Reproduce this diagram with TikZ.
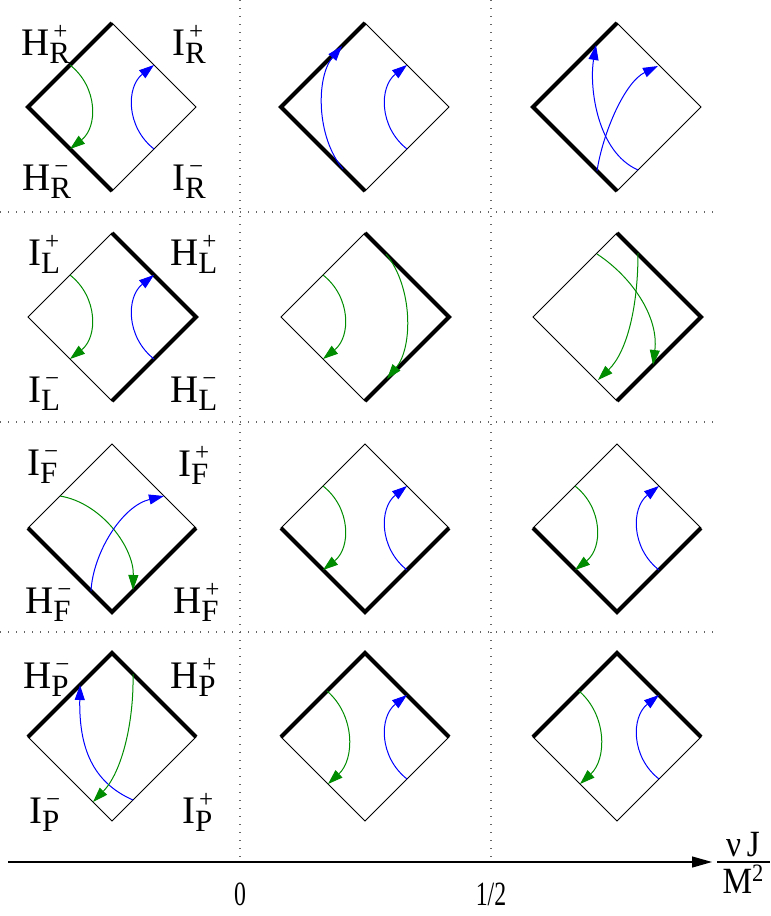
\documentclass[tikz,border=0pt]{standalone}
\usepackage{fontspec}
\setmainfont{Liberation Serif}
\usetikzlibrary{arrows.meta}
\definecolor{pgreen}{RGB}{0,140,0}
\definecolor{pblue}{RGB}{0,0,255}
\newcommand{\plab}[3]{{\fontsize{39}{39}\selectfont #1}\makebox[0pt][l]{\hspace{4pt}\raisebox{16pt}{\fontsize{25}{25}\selectfont #3}}\raisebox{-8pt}{\fontsize{31}{31}\selectfont #2}}
\newcommand{\mn}{\char"2212}
\tikzset{
  thinedge/.style={line width=1pt, line join=miter},
  thickedge/.style={line width=4pt, line join=miter, line cap=butt},
  gcurve/.style={pgreen, line width=1pt, -{Triangle[length=15pt,width=10pt]}},
  bcurve/.style={pblue, line width=1pt, -{Triangle[length=15pt,width=10pt]}},
  gridline/.style={line width=1.3pt, black!60, dash pattern=on 1.3pt off 6.7pt},
  lab/.style={anchor=base west, inner sep=0pt},
  axlab/.style={inner sep=0pt, font=\fontsize{34}{34}\selectfont},
  dframe/.style={shift={#1}, yscale=-1},
}
\newcommand{\frameR}{\draw[thinedge] (0,84) -- (84,0) -- (0,-84) -- (-84,0) -- cycle; \draw[thickedge] (0,84) -- (-84,0) -- (0,-84);}
\newcommand{\frameL}{\draw[thinedge] (0,84) -- (84,0) -- (0,-84) -- (-84,0) -- cycle; \draw[thickedge] (0,84) -- (84,0) -- (0,-84);}
\newcommand{\frameF}{\draw[thinedge] (0,84) -- (84,0) -- (0,-84) -- (-84,0) -- cycle; \draw[thickedge] (-84,0) -- (0,-84) -- (84,0);}
\newcommand{\frameP}{\draw[thinedge] (0,84) -- (84,0) -- (0,-84) -- (-84,0) -- cycle; \draw[thickedge] (-84,0) -- (0,84) -- (84,0);}
\newcommand{\gstd}{\draw[gcurve] (-42,42) .. controls (-14,20) and (-14,-20) .. (-42,-42);}
\newcommand{\bstd}{\draw[bcurve] (42,-42) .. controls (14,-20) and (14,20) .. (42,42);}
\begin{document}
\begin{tikzpicture}[x=1pt,y=-1pt]
\useasboundingbox (0,0) rectangle (771,916);
% grid
\coordinate (v1t) at (240,0); \coordinate (v1b) at (240,862);
\coordinate (v2t) at (491,0); \coordinate (v2b) at (491,862);
\draw[gridline] (v1t) -- (v1b);
\draw[gridline] (v2t) -- (v2b);
\foreach \yy [count=\i] in {212,422,632} {
  \coordinate (h\i l) at (0,\yy); \coordinate (h\i r) at (718,\yy);
  \draw[gridline] (h\i l) -- (h\i r);
}
% row R
\begin{scope}[dframe={(112,107)}] \frameR \gstd \bstd \end{scope}
\begin{scope}[dframe={(365,107)}] \frameR
  \draw[bcurve] (-22,-62) .. controls (-49,-30) and (-49,30) .. (-23,61);
  \bstd \end{scope}
\begin{scope}[dframe={(617,107)}] \frameR
  \draw[bcurve] (21,-63) .. controls (-20,-45) and (-28,20) .. (-21,62);
  \draw[bcurve] (-20,-64) .. controls (-14,-25) and (8,25) .. (41,41);
\end{scope}
% row L
\begin{scope}[dframe={(112,317)}] \frameL \gstd \bstd \end{scope}
\begin{scope}[dframe={(365,317)}] \frameL \gstd
  \draw[gcurve] (21,63) .. controls (48,30) and (48,-30) .. (22,-62);
\end{scope}
\begin{scope}[dframe={(617,317)}] \frameL
  \draw[gcurve] (-20,63) .. controls (15,40) and (42,0) .. (36,-48);
  \draw[gcurve] (21,64) .. controls (21,10) and (10,-35) .. (-19,-63);
\end{scope}
% row F
\begin{scope}[dframe={(112,528)}] \frameF
  \draw[gcurve] (-52,32) .. controls (-10,25) and (22,-20) .. (21,-62);
  \draw[bcurve] (-21,-63) .. controls (-19,-25) and (10,22) .. (52,32);
\end{scope}
\begin{scope}[dframe={(365,528)}] \frameF \gstd \bstd \end{scope}
\begin{scope}[dframe={(617,528)}] \frameF \gstd \bstd \end{scope}
% row P
\begin{scope}[dframe={(112,737)}] \frameP
  \draw[bcurve] (21,-63) .. controls (-20,-45) and (-33,-10) .. (-32,52);
  \draw[gcurve] (21,63) .. controls (22,15) and (10,-35) .. (-19,-65);
\end{scope}
\begin{scope}[dframe={(365,737)}] \frameP
  \draw[gcurve] (-38,46) .. controls (-10,22) and (-10,-22) .. (-37,-47);
  \bstd \end{scope}
\begin{scope}[dframe={(617,737)}] \frameP
  \draw[gcurve] (-38,46) .. controls (-10,22) and (-10,-22) .. (-37,-47);
  \bstd \end{scope}
% labels
\node[lab] (hrp) at (21,55) {\plab{H}{R}{+}};
\node[lab] (irp) at (172,55) {\plab{I}{R}{+}};
\node[lab] (hrm) at (22,190) {\plab{H}{R}{\mn}};
\node[lab] (irm) at (172,190) {\plab{I}{R}{\mn}};
\node[lab] (ilp) at (28,265) {\plab{I}{L}{+}};
\node[lab] (hlp) at (170,265) {\plab{H}{L}{+}};
\node[lab] (ilm) at (28,402) {\plab{I}{L}{\mn}};
\node[lab] (hlm) at (170,402) {\plab{H}{L}{\mn}};
\node[lab] (ifm) at (27,475) {\plab{I}{F}{\mn}};
\node[lab] (ifp) at (178,476) {\plab{I}{F}{+}};
\node[lab] (hfm) at (25,613) {\plab{H}{F}{\mn}};
\node[lab] (hfp) at (173,613) {\plab{H}{F}{+}};
\node[lab] (hpm) at (23,688) {\plab{H}{P}{\mn}};
\node[lab] (hpp) at (170,688) {\plab{H}{P}{+}};
\node[lab] (ipm) at (29,823) {\plab{I}{P}{\mn}};
\node[lab] (ipp) at (182,823) {\plab{I}{P}{+}};
% axis
\coordinate (ax0) at (8,862); \coordinate (ax1) at (712,862);
\draw[line width=1.3pt, -{Triangle[length=20pt,width=11pt]}] (ax0) -- (ax1);
\node[axlab] (zero) at (240,894) {\scalebox{0.7}[1]{0}};
\node[axlab] (half) at (491,894) {\scalebox{0.7}[1]{1/2}};
\node[anchor=base, inner sep=0pt, font=\fontsize{37}{37}\selectfont] (nuj) at (743,856) {\scalebox{0.9}[1]{ν\,J}};
\node[anchor=base, inner sep=0pt, font=\fontsize{37}{37}\selectfont] (msq) at (743,893) {\scalebox{0.9}[1]{M\raisebox{12pt}{\fontsize{25}{25}\selectfont 2}}};
\coordinate (fb0) at (717,862); \coordinate (fb1) at (770,862);
\draw[line width=1.2pt] (fb0) -- (fb1);
\end{tikzpicture}
\end{document}
